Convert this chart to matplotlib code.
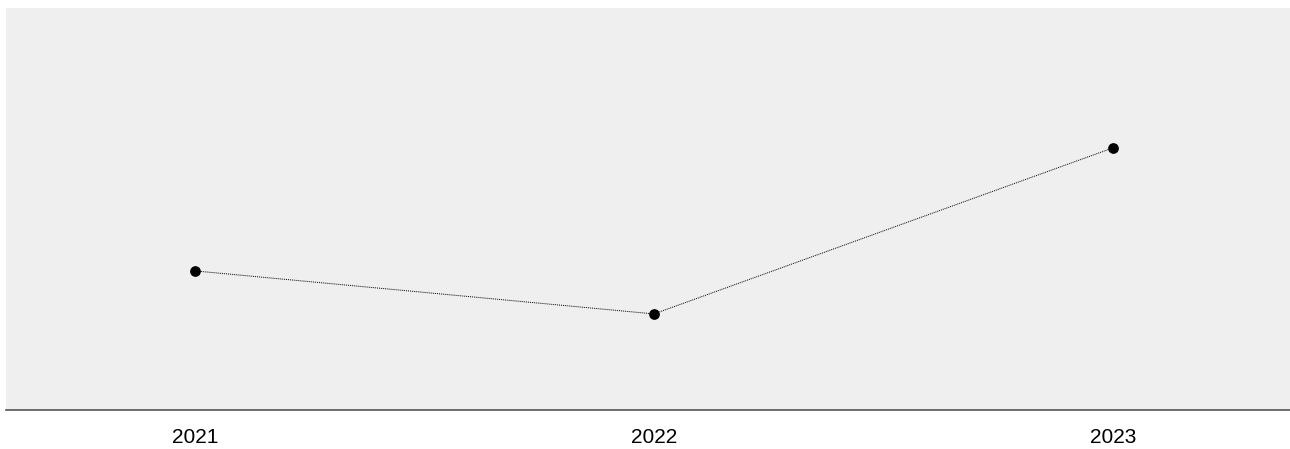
import matplotlib.pyplot as plt

years = ["2021", "2022", "2023"]
values = [34.6, 23.9, 65.2]

plt.rcParams["font.family"] = ["Liberation Sans", "DejaVu Sans"]

fig = plt.figure(figsize=(12.9, 4.49), dpi=100)
ax = fig.add_axes([6 / 1290, 39 / 449, 1284 / 1290, 402 / 449])
ax.set_facecolor("#efefef")

x = range(len(years))
ax.plot(x, values, color="black", linestyle=(0, (1, 1)), linewidth=0.7)
ax.scatter(x, values, s=45, color="black", zorder=3)

ax.set_xlim(-0.412, 2.386)
ax.set_ylim(0, 100)
ax.set_xticks(list(x))
ax.set_xticklabels(years, fontsize=15)
ax.tick_params(axis="x", length=0, pad=13)
ax.set_yticks([])

for side in ["top", "left", "right"]:
    ax.spines[side].set_visible(False)
ax.spines["bottom"].set_color("#555555")
ax.spines["bottom"].set_linewidth(1.2)

fig.savefig("out.png", dpi=100)
